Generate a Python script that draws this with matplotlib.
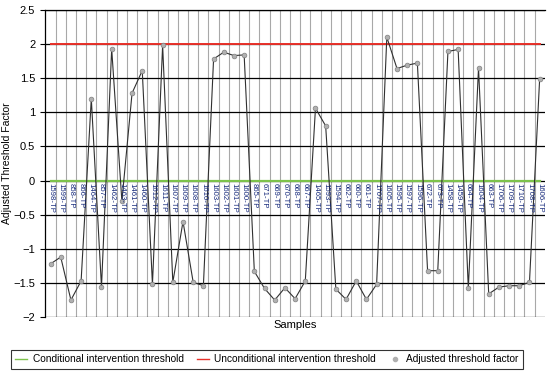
import matplotlib.pyplot as plt
from matplotlib.lines import Line2D
from matplotlib.ticker import FuncFormatter

plt.rcParams['font.family'] = ['Liberation Sans', 'DejaVu Sans']

samples = ['1598-TP', '1599-TP', '858-TP', '866-TP', '1464-TP', '857-TP', '1462-TP',
           '1463-TP', '1461-TP', '1460-TP', '1612-TP', '1611-TP', '1607-TP', '1609-TP',
           '1608-TP', '1610-TP', '1603-TP', '1602-TP', '1601-TP', '1600-TP', '865-TP',
           '671-TP', '669-TP', '670-TP', '668-TP', '667-TP', '1465-TP', '1593-TP',
           '1594-TP', '662-TP', '660-TP', '661-TP', '1707-TP', '1605-TP', '1595-TP',
           '1597-TP', '1596-TP', '672-TP', '673-TP', '1458-TP', '1459-TP', '664-TP',
           '1604-TP', '663-TP', '1706-TP', '1709-TP', '1710-TP', '1708-TP', '1606-TP']
factor = [-1.22, -1.12, -1.75, -1.47, 1.20, -1.56, 1.93,
          -0.30, 1.28, 1.61, -1.52, 1.98, -1.49, -0.60,
          -1.49, -1.54, 1.78, 1.88, 1.83, 1.84, -1.33,
          -1.58, -1.75, -1.57, -1.73, -1.47, 1.06, 0.80,
          -1.59, -1.74, -1.47, -1.74, -1.52, 2.10, 1.64,
          1.69, 1.72, -1.32, -1.32, 1.89, 1.92, -1.58,
          1.65, -1.66, -1.56, -1.54, -1.54, -1.49, 1.49]
conditional = 0.0
unconditional = 2.0

x = list(range(len(samples)))

fig = plt.figure(figsize=(5.48, 3.78), dpi=100)
ax = fig.add_axes([0.082, 0.161, 0.913, 0.813])

# category grid (gray) and value grid (black)
for i in range(len(samples) - 1):
    ax.axvline(i + 0.5, color='#a8a8a8', lw=0.8, zorder=0)
for v in [-2, -1.5, -1, -0.5, 0, 0.5, 1, 1.5, 2, 2.5]:
    ax.axhline(v, color='black', lw=0.9, zorder=0)

ax.plot(x, [conditional] * len(x), color='#7dc24b', lw=1.6, zorder=2)
ax.plot(x, [unconditional] * len(x), color='#e8312a', lw=1.4, zorder=2)
ax.plot(x, factor, color='#303030', lw=0.8, zorder=3)
ax.plot(x, factor, ls='none', marker='o', ms=3.4, mfc='#b0b0b0', mec='#808080',
        mew=0.5, zorder=4)

for i, s in enumerate(samples):
    ax.text(i, -0.04, s, rotation=270, ha='center', va='top', fontsize=5.6,
            color='#14287a', zorder=5)

ax.set_xlim(-0.55, len(samples) - 0.45)
ax.set_ylim(-2, 2.5)
ax.set_yticks([-2, -1.5, -1, -0.5, 0, 0.5, 1, 1.5, 2, 2.5])
ax.yaxis.set_major_formatter(FuncFormatter(lambda v, p: ('%g' % v).replace('-', '\u2212')))
ax.set_xticks([])
ax.tick_params(axis='y', labelsize=8, length=3.5, width=0.8)
for sp in ['right', 'bottom']:
    ax.spines[sp].set_visible(False)
ax.spines['left'].set_linewidth(0.9)
ax.spines['top'].set_linewidth(0.9)

ax.set_ylabel('Adjusted Threshold Factor', fontsize=7.5)
ax.yaxis.set_label_coords(-0.066, 0.5)
ax.set_xlabel('Samples', fontsize=8, labelpad=2)

handles = [Line2D([], [], color='#7dc24b', lw=1.0),
           Line2D([], [], color='#e8312a', lw=1.0),
           Line2D([], [], ls='none', marker='o', ms=3, mfc='#b0b0b0', mec='#b0b0b0')]
labels = ['Conditional intervention threshold', 'Unconditional intervention threshold',
          'Adjusted threshold factor']
leg = fig.legend(handles, labels, loc='center', bbox_to_anchor=(0.487, 0.05), ncol=3,
                 fontsize=7.3, frameon=True, fancybox=False, edgecolor='black',
                 handlelength=1.2, handletextpad=0.5, columnspacing=1.3, borderpad=0.45)
leg.get_frame().set_linewidth(0.8)

fig.savefig('out.png', dpi=100)
